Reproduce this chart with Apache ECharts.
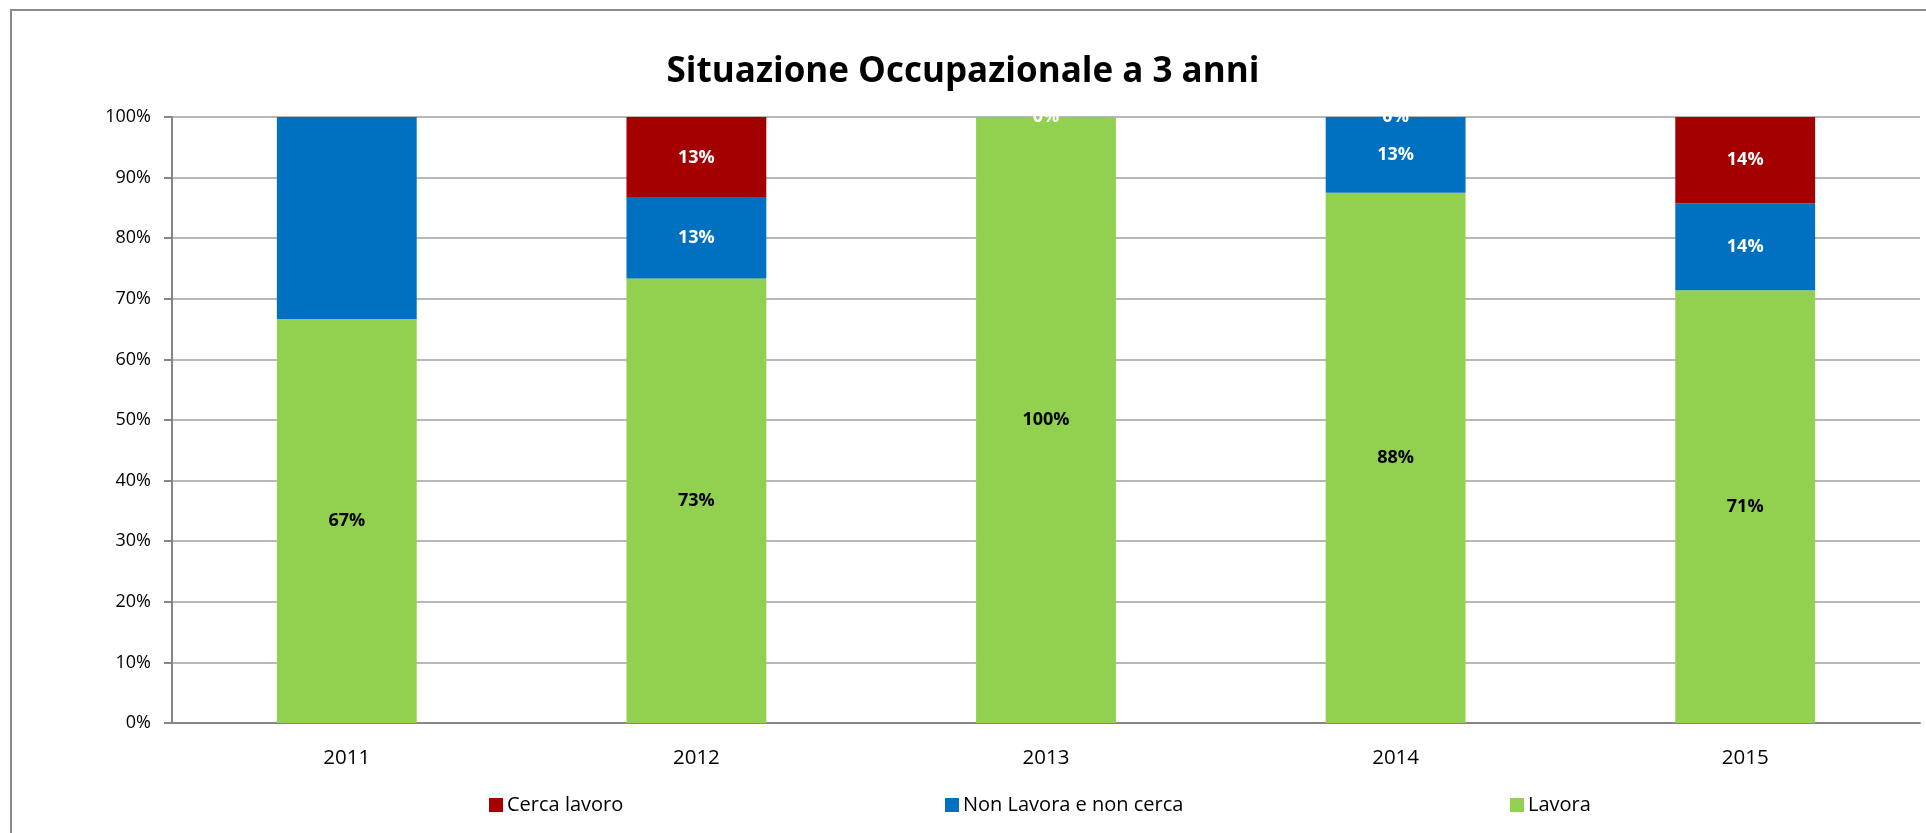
<!DOCTYPE html>
<html>
<head>
<meta charset="utf-8">
<script src="https://cdn.jsdelivr.net/npm/echarts@6/dist/echarts.min.js"></script>
<style>
  html, body { margin: 0; padding: 0; background: #fff; }
  #chart { width: 1926px; height: 833px; }
</style>
</head>
<body>
<div id="chart"></div>
<script>
// dati (quota su 1)
var anni = ['2011', '2012', '2013', '2014', '2015'];
var lavora = [0.6667, 0.7333, 1.0, 0.875, 0.7143];
var nonLavora = [0.3333, 0.1333, null, 0.125, 0.1429];
var cercaLavoro = [null, 0.1333, 0, 0, 0.1429];
var yTicks = [0, 0.1, 0.2, 0.3, 0.4, 0.5, 0.6, 0.7, 0.8, 0.9, 1.0];

var FONT = '"Open Sans", "Noto Sans", sans-serif';

function pct(p) {
    return Math.round(p.value * 100) + '%';
}

var myChart = echarts.init(document.getElementById('chart'));

myChart.setOption({
    animation: false,
    title: {
        text: 'Situazione Occupazionale a 3 anni',
        left: 'center',
        top: 50,
        textStyle: { fontFamily: FONT, fontSize: 35, fontWeight: 'bold', color: '#000' }
    },
    legend: [
        { data: ['Cerca lavoro'], left: 489, top: 795 },
        { data: ['Non Lavora e non cerca'], left: 945, top: 795 },
        { data: ['Lavora'], left: 1510, top: 795 }
    ].map(function (l) {
        l.icon = 'rect';
        l.padding = 0;
        l.itemWidth = 14;
        l.itemHeight = 14;
        l.itemGap = 4;
        l.textStyle = { fontFamily: FONT, fontSize: 20, color: '#000', padding: [0, 0, 0, -1] };
        return l;
    }),
    grid: { left: 172, top: 117, right: 6, bottom: 110 },
    xAxis: {
        type: 'category',
        data: anni,
        axisLine: { lineStyle: { color: '#868686', width: 2 } },
        axisTick: { length: 9, lineStyle: { color: '#868686', width: 2 } },
        axisLabel: { fontFamily: FONT, fontSize: 20.5, color: '#000', margin: 25 }
    },
    yAxis: {
        type: 'value',
        min: 0,
        max: 1,
        interval: 0.1,
        axisLine: { show: true, lineStyle: { color: '#868686', width: 2 } },
        axisTick: { show: true, length: 8, lineStyle: { color: '#868686', width: 2 } },
        splitLine: { lineStyle: { color: '#a0a0a0', width: 1.5 } },
        axisLabel: {
            fontFamily: FONT, fontSize: 18, color: '#000', margin: 21,
            formatter: function (v) {
                return yTicks.indexOf(Math.round(v * 10) / 10) >= 0 ? Math.round(v * 100) + '%' : '';
            }
        }
    },
    series: [
        {
            name: 'Lavora',
            type: 'bar',
            stack: 'tot',
            barWidth: '40%',
            itemStyle: { color: '#92D050' },
            label: { show: true, position: 'inside', formatter: pct,
                fontFamily: FONT, fontSize: 18, fontWeight: 'bold', color: '#000' },
            data: lavora
        },
        {
            name: 'Non Lavora e non cerca',
            type: 'bar',
            stack: 'tot',
            itemStyle: { color: '#0070C0' },
            label: { show: true, position: 'inside', formatter: pct,
                fontFamily: FONT, fontSize: 18, fontWeight: 'bold', color: '#fff' },
            // l'etichetta del 2011 non compare nel grafico originale
            data: nonLavora.map(function (v, i) {
                return i === 0 ? { value: v, label: { show: false } } : v;
            })
        },
        {
            name: 'Cerca lavoro',
            type: 'bar',
            stack: 'tot',
            itemStyle: { color: '#A50000' },
            label: { show: true, position: 'inside', formatter: pct,
                fontFamily: FONT, fontSize: 18, fontWeight: 'bold', color: '#fff' },
            data: cercaLavoro
        }
    ],
    graphic: [
        // cornice esterna
        {
            type: 'rect', silent: true, z: 0,
            shape: { x: 11, y: 10, width: 2000, height: 900 },
            style: { fill: null, stroke: '#8a8a8a', lineWidth: 2 }
        },
        // taglia le etichette "0%" sopra l'area del grafico, come nell'originale
        {
            type: 'rect', silent: true, z: 100,
            shape: { x: 173, y: 96, width: 1746, height: 20 },
            style: { fill: '#fff' }
        }
    ]
});
</script>
</body>
</html>
